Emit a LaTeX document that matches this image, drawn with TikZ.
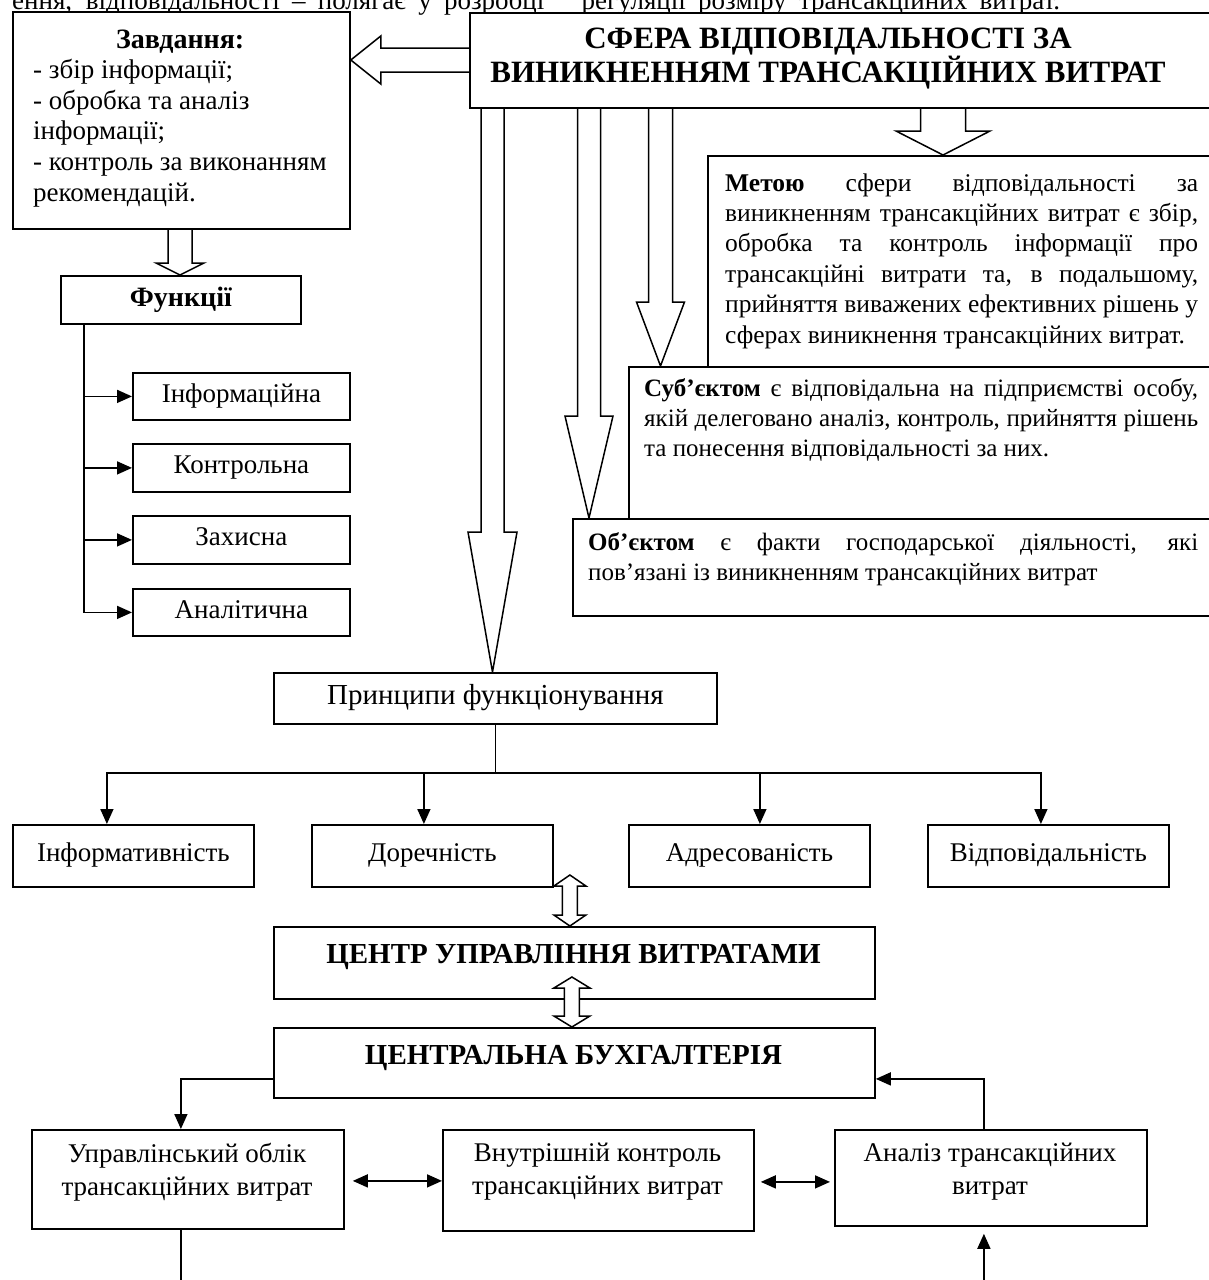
\documentclass[tikz,border=0pt]{standalone}
\usepackage{fontspec}
\setmainfont{Liberation Serif}
\usetikzlibrary{arrows.meta,calc}
\pgfdeclarelayer{background}
\pgfsetlayers{background,main}
\hbadness=10000 \hfuzz=300pt
\newcommand\fs[2]{\fontsize{#1}{#2}\selectfont}
\newcommand\jl[1]{\hbox to\hsize{#1}}
\newcommand\nl[1]{\hbox{#1}}
\newcommand\harrdown[5]{%
  \draw[hollow] ($(#1)+(-#3,0)$) -- ($(#2)+(-#3,-#5)$) -- ($(#2)+(-#4,-#5)$) -- (#2)
    -- ($(#2)+(#4,-#5)$) -- ($(#2)+(#3,-#5)$) -- ($(#1)+(#3,0)$);}
\newcommand\dblhollow[5]{%
  \draw[hollow] (#1) -- ($(#1)+(#4,#5)$) -- ($(#1)+(#3,#5)$) -- ($(#2)+(#3,-#5)$)
    -- ($(#2)+(#4,-#5)$) -- (#2) -- ($(#2)+(-#4,-#5)$) -- ($(#2)+(-#3,-#5)$)
    -- ($(#1)+(-#3,#5)$) -- ($(#1)+(-#4,#5)$) -- cycle;}
\tikzset{
  box/.style={draw, line width=1.8pt, fill=white, inner sep=0, anchor=north west},
  lbl/.style={font={\fs{27}{33}}, text height=18pt, text depth=6pt},
  line/.style={line width=1.6pt},
  tip/.style={-{Triangle[length=15pt,width=13pt]}},
  dtip/.style={{Triangle[length=15pt,width=13pt]}-{Triangle[length=15pt,width=13pt]}},
  hollow/.style={draw, line width=1.5pt, fill=white, line join=miter},
  txt/.style={font={\fs{27}{33}}, align=center, inner sep=0},
  btxt/.style={font={\fs{29}{33}\bfseries}, align=center, inner sep=0},
}
\begin{document}
\begin{tikzpicture}[x=1pt,y=-1pt]
\useasboundingbox (0,0) rectangle (1209,1280);

% partial line of text at the top
\node[anchor=base west, inner sep=0, font={\fs{27}{31}}] (toptext) at (12,9)
  {\hbox to 1048pt{ення, відповідальності – полягає у розробці\hspace{25pt} регуляції розміру трансакційних витрат.}};

% boxes
\node[box, minimum width=337pt, minimum height=217pt] (zav) at (12,11) {};
\node[box, minimum width=760pt, minimum height=95pt] (sfera) at (469,12) {};
\node[box, minimum width=520pt, minimum height=211pt] (meta) at (707,155) {};
\node[box, minimum width=600pt, minimum height=152pt] (sub) at (628,366) {};
\node[box, minimum width=655pt, minimum height=97pt] (obj) at (572,518) {};
\node[box, minimum width=240pt, minimum height=48pt, font={\fs{28}{33}\bfseries}, text height=19pt, text depth=6pt] (fun) at (60,275) {Функції};
\node[box, lbl, minimum width=217pt, minimum height=47pt] (f1) at (132,372) {Інформаційна};
\node[box, lbl, minimum width=217pt, minimum height=48pt] (f2) at (132,443) {Контрольна};
\node[box, lbl, minimum width=217pt, minimum height=48pt] (f3) at (132,515) {Захисна};
\node[box, lbl, minimum width=217pt, minimum height=47pt] (f4) at (132,588) {Аналітична};
\node[box, lbl, font={\fs{29}{33}}, minimum width=443pt, minimum height=51pt] (prin) at (273,672) {Принципи функціонування};
\node[box, lbl, minimum width=241pt, minimum height=62pt] (inf) at (12,824) {Інформативність};
\node[box, lbl, minimum width=241pt, minimum height=62pt] (dor) at (311,824) {Доречність};
\node[box, lbl, minimum width=241pt, minimum height=62pt] (adr) at (628,824) {Адресованість};
\node[box, lbl, minimum width=241pt, minimum height=62pt] (vid) at (927,824) {Відповідальність};
\node[box, minimum width=601pt, minimum height=72pt] (centr) at (273,926) {};
\node[box, minimum width=601pt, minimum height=70pt] (buh) at (273,1027) {};
\node[box, minimum width=312pt, minimum height=99pt] (upr) at (31,1129) {};
\node[box, minimum width=311pt, minimum height=101pt] (vnu) at (442,1129) {};
\node[box, minimum width=312pt, minimum height=96pt] (ana) at (834,1129) {};

% texts
\node[anchor=base west, inner sep=0] (zavt) at (33,48) {\parbox[t]{294pt}{\fs{27}{30.6}%
  \hbox to\hsize{\hss\fs{28}{30.6}\bfseries Завдання:\hss}%
  \nl{- збір інформації;}\nl{- обробка та аналіз}\nl{інформації;}%
  \nl{- контроль за виконанням}\nl{рекомендацій.}}};
\node[btxt, font={\fs{31}{33}\bfseries}] (sferat) at (828,59) {СФЕРА ВІДПОВІДАЛЬНОСТІ ЗА\\ВИНИКНЕННЯМ ТРАНСАКЦІЙНИХ ВИТРАТ};
\node[anchor=base west, inner sep=0] (metat) at (725,191) {\parbox[t]{473pt}{\fs{25.5}{30.4}%
  \jl{\textbf{Метою} сфери відповідальності за}%
  \jl{виникненням трансакційних витрат є збір,}%
  \jl{обробка та контроль інформації про}%
  \jl{трансакційні витрати та, в подальшому,}%
  \jl{прийняття виважених ефективних рішень у}%
  \nl{сферах виникнення трансакційних витрат.}}};
\node[anchor=base west, inner sep=0] (subt) at (644,396) {\parbox[t]{554pt}{\fs{25}{30}%
  \jl{\textbf{Суб’єктом} є відповідальна на підприємстві особу,}%
  \jl{якій делеговано аналіз, контроль, прийняття рішень}%
  \nl{та понесення відповідальності за них.}}};
\node[anchor=base west, inner sep=0] (objt) at (588,550) {\parbox[t]{610pt}{\fs{25}{30}%
  \jl{\textbf{Об’єктом} є факти господарської діяльності, які}%
  \nl{пов’язані із виникненням трансакційних витрат}}};
\node[btxt] (centrt) at (573.5,957) {ЦЕНТР УПРАВЛІННЯ ВИТРАТАМИ};
\node[btxt] (buht) at (573.5,1058) {ЦЕНТРАЛЬНА БУХГАЛТЕРІЯ};
\node[txt] (uprt) at (187,1172) {Управлінський облік\\трансакційних витрат};
\node[txt] (vnut) at (597.5,1172) {Внутрішній контроль\\трансакційних витрат};
\node[txt] (anat) at (990,1172) {Аналіз трансакційних\\витрат};

% hollow arrows (behind the boxes)
\coordinate (xa) at (492.5,0);
\coordinate (xb) at (589,0);
\coordinate (xc) at (660.5,0);
\coordinate (xd) at (943,0);
\coordinate (xe) at (180,0);
\coordinate (ya) at (0,60);
\begin{pgfonlayer}{background}
  \fill[white] (0,0) rectangle (1209,1280);
  \coordinate (a0s) at (sfera.west |- ya);
  \coordinate (a0t) at (zav.east |- ya);
  \draw[hollow] ($(a0s)+(0,-12)$) -- ($(a0t)+(30,-12)$) -- ($(a0t)+(30,-24)$) -- (a0t)
    -- ($(a0t)+(30,24)$) -- ($(a0t)+(30,12)$) -- ($(a0s)+(0,12)$);
  \harrdown{sfera.south -| xa}{prin.north -| xa}{11.5}{24.5}{140}
  \harrdown{sfera.south -| xb}{obj.north -| xb}{11.5}{24}{102}
  \harrdown{sfera.south -| xc}{sub.north -| xc}{12}{24}{64}
  \harrdown{sfera.south -| xd}{meta.north -| xd}{22.5}{47}{24}
  \harrdown{zav.south -| xe}{fun.north -| xe}{12}{24}{12}
  \coordinate (da1b) at ([xshift=-4.5pt]centr.north);
  \coordinate (da1t) at ([yshift=51pt]da1b);
  \dblhollow{da1t}{da1b}{7.5}{16}{11}
\end{pgfonlayer}
\coordinate (da2b) at ([xshift=-2.5pt]buh.north);
\coordinate (da2t) at ([yshift=50pt]da2b);
\dblhollow{da2t}{da2b}{7.5}{18}{11}

% function tree
\coordinate (x84) at (84,0);
\foreach \n in {f1,f2,f3,f4} \draw[line,tip] (fun.south -| x84) |- (\n.west);

% principles tree
\coordinate (bus) at (0,773);
\draw[line] (prin.south) -- (prin.south |- bus);
\draw[line,tip] (prin.south |- bus) -| ([xshift=-26.5pt]inf.north);
\draw[line,tip] (prin.south |- bus) -| ([xshift=-8.5pt]dor.north);
\draw[line,tip] (prin.south |- bus) -| ([xshift=10.5pt]adr.north);
\draw[line,tip] (prin.south |- bus) -| ([xshift=-7.5pt]vid.north);

% accounting
\draw[line,tip] ([yshift=-16pt]buh.west) -| ([xshift=-7pt]upr.north);
\draw[line,tip] ([xshift=-7pt]ana.north) |- ([yshift=-16pt]buh.east);
\draw[line,dtip] ([xshift=8pt,yshift=-1.5pt]upr.east) -- ([yshift=-1.5pt]upr.east -| vnu.west);
\draw[line,dtip] ([xshift=6pt,yshift=-1.5pt]vnu.east) -- ([xshift=-4pt,yshift=-1.5pt]vnu.east -| ana.west);
\draw[line] ([xshift=-7pt]upr.south) -- ++(0,60);
\draw[line,tip] ([xshift=-7pt]ana.south) ++(0,65) -- ([xshift=-7pt,yshift=-7pt]ana.south);
\end{tikzpicture}
\end{document}
